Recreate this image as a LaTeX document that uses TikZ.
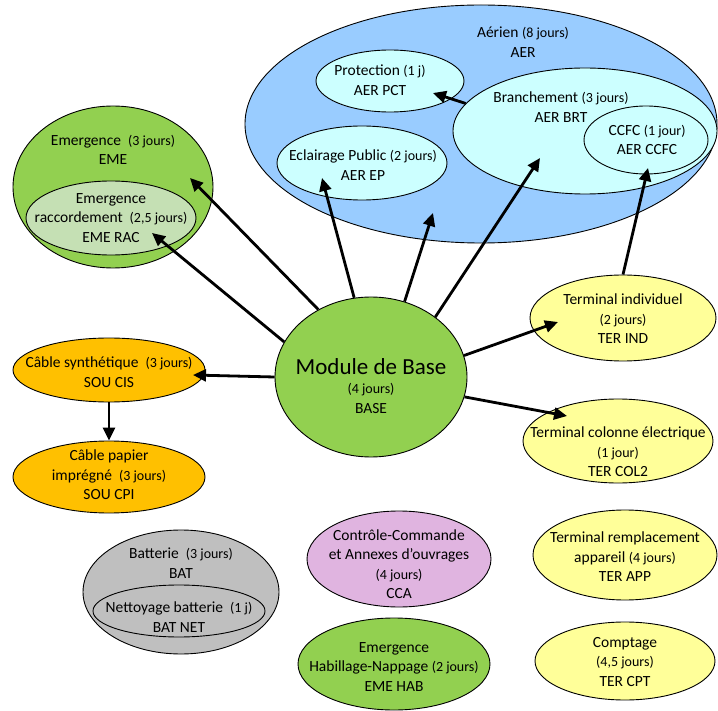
\documentclass[tikz,border=0pt]{standalone}
\usepackage{fontspec}
\setmainfont{Carlito}
\usetikzlibrary{shapes.geometric,arrows.meta}

\definecolor{aerBlue}{RGB}{153,204,255}
\definecolor{aerCyan}{RGB}{204,255,255}
\definecolor{emeGreen}{RGB}{146,208,80}
\definecolor{racGreen}{RGB}{197,224,180}
\definecolor{souOrange}{RGB}{255,192,0}
\definecolor{terYellow}{RGB}{255,255,153}
\definecolor{batGrey}{RGB}{191,191,191}
\definecolor{ccaPink}{RGB}{224,180,224}

\newcommand{\jr}[1]{{\fontsize{14}{19.5}\selectfont #1}}

\begin{document}
\begin{tikzpicture}[x=1pt, y=-1pt,
  bubble/.style = {ellipse, draw, line width=0.9pt, inner sep=0pt},
  txt/.style = {align=center, inner sep=0pt, font=\fontsize{15.5}{19.5}\selectfont},
  arr/.style = {-{Triangle[length=13pt,width=12pt]}, line width=2.8pt}]

\useasboundingbox (0,0) rectangle (718,711);

% Aerien group
\node[bubble, fill=aerBlue, minimum width=472pt, minimum height=238pt] (aer) at (481,124) {};
\node[txt] (aerT) at (523,42) {Aérien \jr{(8 jours)}\\AER};
\node[bubble, fill=aerCyan, minimum width=148pt, minimum height=62pt] (pct) at (390,81) {};
\node[txt] (pctT) at (380,80) {Protection \jr{(1 j)}\\AER PCT};
\node[bubble, fill=aerCyan, minimum width=264pt, minimum height=126pt] (brt) at (585,131) {};
\node[txt] (brtT) at (561,107) {Branchement \jr{(3 jours)}\\AER BRT};
\node[bubble, fill=aerCyan, minimum width=124pt, minimum height=68pt] (ccfc) at (646,140) {};
\node[txt] (ccfcT) at (647,140) {CCFC \jr{(1 jour)}\\AER CCFC};
\node[bubble, fill=aerCyan, minimum width=170pt, minimum height=74pt] (ep) at (362,163) {};
\node[txt] (epT) at (363,165) {Eclairage Public \jr{(2 jours)}\\AER EP};

% Emergence group
\node[bubble, fill=emeGreen, minimum width=200pt, minimum height=162pt] (eme) at (113,187) {};
\node[txt] (emeT) at (113,150) {Emergence\ \ \jr{(3 jours)}\\EME};
\node[bubble, fill=racGreen, minimum width=170pt, minimum height=74pt] (rac) at (111,218) {};
\node[txt] (racT) at (111,218) {Emergence\\raccordement\ \ \jr{(2,5 jours)}\\EME RAC};

% Souterrain
\node[bubble, fill=souOrange, minimum width=192pt, minimum height=64pt] (cis) at (109,370) {};
\node[txt] (cisT) at (109,372) {Câble synthétique\ \ \jr{(3 jours)}\\SOU CIS};
\node[bubble, fill=souOrange, minimum width=192pt, minimum height=72pt] (cpi) at (109,477) {};
\node[txt] (cpiT) at (109,475) {Câble papier\\imprégné\ \ \jr{(3 jours)}\\SOU CPI};

% Base
\node[bubble, fill=emeGreen, minimum width=192pt, minimum height=160pt] (base) at (371,377) {};
\node[txt] (baseT) at (371,386) {{\fontsize{23}{26}\selectfont Module de Base}\\\jr{(4 jours)}\\BASE};

% Terminal
\node[bubble, fill=terYellow, minimum width=186pt, minimum height=86pt] (ind) at (623,318) {};
\node[txt] (indT) at (623,319) {Terminal individuel\\\jr{(2 jours)}\\TER IND};
\node[bubble, fill=terYellow, minimum width=190pt, minimum height=84pt] (col) at (618,441) {};
\node[txt] (colT) at (618,452) {Terminal colonne électrique\\\jr{(1 jour)}\\TER COL2};
\node[bubble, fill=terYellow, minimum width=184pt, minimum height=90pt] (app) at (625,555) {};
\node[txt] (appT) at (625,557) {Terminal remplacement\\appareil \jr{(4 jours)}\\TER APP};
\node[bubble, fill=terYellow, minimum width=180pt, minimum height=78pt] (cpt) at (625,661) {};
\node[txt] (cptT) at (625,662) {Comptage\\\jr{(4,5 jours)}\\TER CPT};

% Batterie
\node[bubble, fill=batGrey, minimum width=196pt, minimum height=124pt] (bat) at (181,592) {};
\node[txt] (batT) at (181,563) {Batterie\ \ \jr{(3 jours)}\\BAT};
\node[bubble, fill=batGrey, minimum width=172pt, minimum height=52pt] (net) at (179,611) {};
\node[txt] (netT) at (179,617) {Nettoyage batterie\ \ \jr{(1 j)}\\BAT NET};

% Others
\node[bubble, fill=ccaPink, minimum width=184pt, minimum height=96pt] (cca) at (399,559) {};
\node[txt] (ccaT) at (399,564) {Contrôle-Commande\\et Annexes d’ouvrages\\\jr{(4 jours)}\\CCA};
\node[bubble, fill=emeGreen, minimum width=192pt, minimum height=92pt] (hab) at (394,664) {};
\node[txt] (habT) at (394,667) {Emergence\\Habillage-Nappage \jr{(2 jours)}\\EME HAB};

% Arrow tips
\coordinate (tPCT) at (433,93);
\coordinate (tEP) at (322,178);
\coordinate (tAER) at (433,213);
\coordinate (tBRT) at (540,158);
\coordinate (tCCFC) at (648,168);
\coordinate (tEME) at (190,178);
\coordinate (tRAC) at (152,233);
\coordinate (tCIS) at (193,375);
\coordinate (tIND) at (558,322);
\coordinate (tCOL) at (567,416);

% Arrows
\draw[arr] (base.128) -- (tEME);
\draw[arr] (base.158) -- (tRAC);
\draw[arr] (base.west) -- (tCIS);
\draw[arr] (base.102) -- (tEP);
\draw[arr] (base.66) -- (tAER);
\draw[arr] (base.43) -- (tBRT);
\draw[arr] (base.13) -- (tIND);
\draw[arr] (base.-12) -- (tCOL);
\draw[arr] (brt.167) -- (tPCT);
\draw[arr] (ind.north) -- (tCCFC);
\draw[arr] (cis.south) -- (cpi.north);

\end{tikzpicture}
\end{document}
